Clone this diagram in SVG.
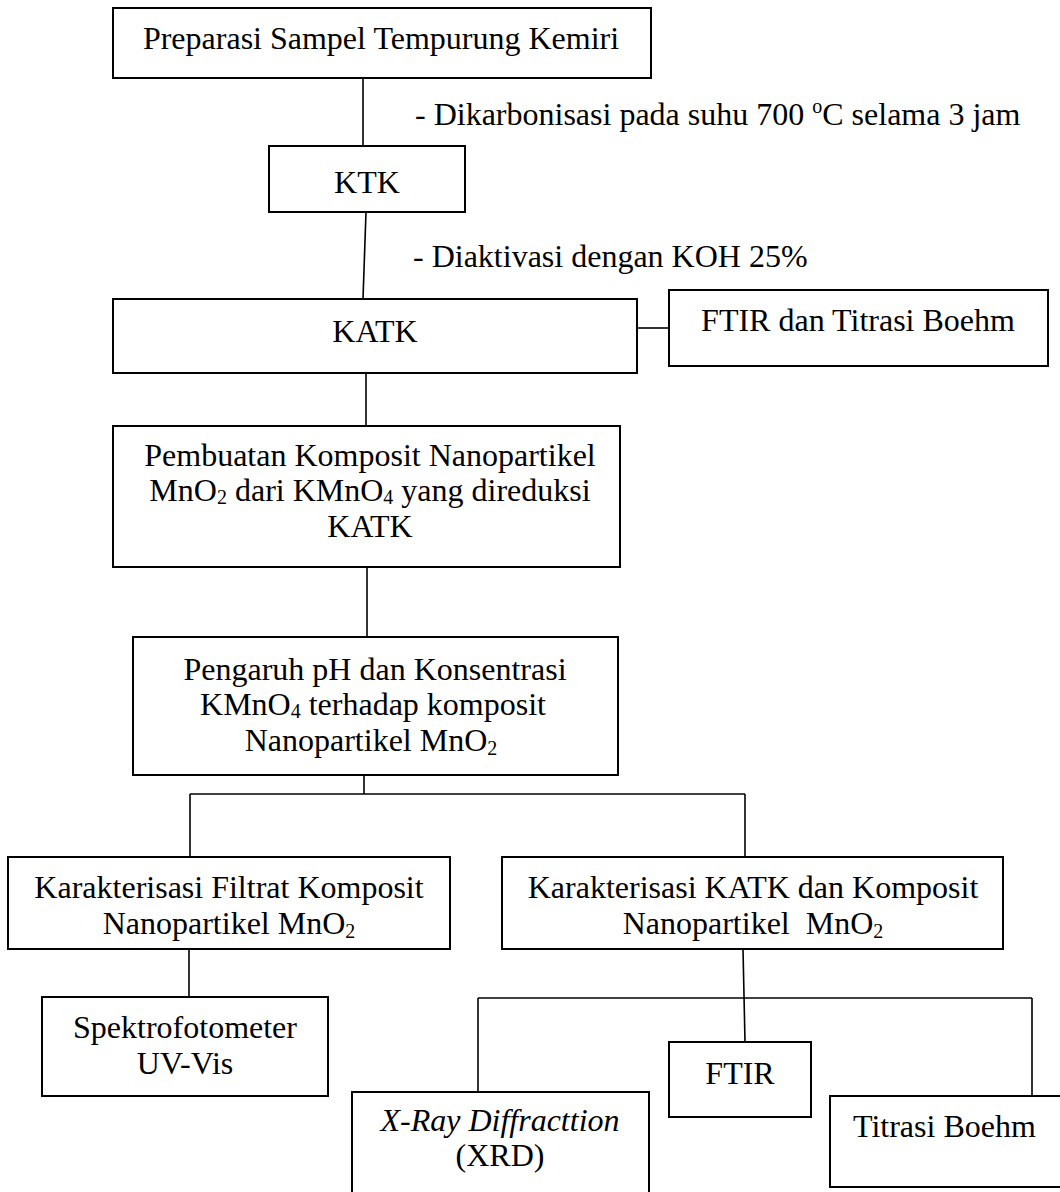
<svg xmlns="http://www.w3.org/2000/svg" width="1060" height="1192" viewBox="0 0 1060 1192">
<style>
.box{fill:#fff;stroke:#000;stroke-width:2}
.ln{fill:none;stroke:#000;stroke-width:1.6}
.t{font-family:"Liberation Serif","Times New Roman",serif;font-size:32px;fill:#000}
.c{text-anchor:middle}
.s{font-size:20px}
</style>
<rect width="1060" height="1192" fill="#fff"/>
<g id="connectors">
<line class="ln" x1="363" y1="78" x2="363" y2="146"/>
<line class="ln" x1="366" y1="212" x2="363" y2="299"/>
<line class="ln" x1="637" y1="328" x2="669" y2="328"/>
<line class="ln" x1="366" y1="373" x2="366" y2="426"/>
<line class="ln" x1="367" y1="567" x2="367" y2="637"/>
<line class="ln" x1="364" y1="775" x2="364" y2="794"/>
<line class="ln" x1="190" y1="794" x2="745" y2="794"/>
<line class="ln" x1="190" y1="794" x2="190" y2="857"/>
<line class="ln" x1="745" y1="794" x2="745" y2="857"/>
<line class="ln" x1="189" y1="949" x2="189" y2="997"/>
<line class="ln" x1="743" y1="949" x2="745" y2="1042"/>
<line class="ln" x1="478" y1="998" x2="1032" y2="998"/>
<line class="ln" x1="478" y1="998" x2="478" y2="1092"/>
<line class="ln" x1="1032" y1="998" x2="1032" y2="1096"/>
</g>
<g id="label-karbonisasi">
<text class="t" x="415" y="125">- Dikarbonisasi pada suhu 700 <tspan class="s" dy="-12">o</tspan><tspan dy="12">C selama 3 jam</tspan></text>
</g>
<g id="label-aktivasi">
<text class="t" x="413" y="267">- Diaktivasi dengan KOH 25%</text>
</g>
<g id="n-preparasi">
<rect class="box" x="113" y="8" width="538" height="70"/>
<text class="t c" x="381" y="49">Preparasi Sampel Tempurung Kemiri</text>
</g>
<g id="n-ktk">
<rect class="box" x="269" y="146" width="196" height="66"/>
<text class="t c" x="367" y="193">KTK</text>
</g>
<g id="n-katk">
<rect class="box" x="113" y="299" width="524" height="74"/>
<text class="t c" x="375" y="342">KATK</text>
</g>
<g id="n-ftir-boehm">
<rect class="box" x="669" y="290" width="379" height="76"/>
<text class="t c" x="858" y="331">FTIR dan Titrasi Boehm</text>
</g>
<g id="n-pembuatan">
<rect class="box" x="113" y="426" width="507" height="141"/>
<text class="t c" x="370" y="466">Pembuatan Komposit Nanopartikel</text>
<text class="t c" x="370" y="501">MnO<tspan class="s" dy="3">2</tspan><tspan dy="-3"> dari KMnO</tspan><tspan class="s" dy="3">4</tspan><tspan dy="-3"> yang direduksi</tspan></text>
<text class="t c" x="370" y="537">KATK</text>
</g>
<g id="n-pengaruh">
<rect class="box" x="133" y="637" width="485" height="138"/>
<text class="t c" x="375" y="680">Pengaruh pH dan Konsentrasi</text>
<text class="t c" x="373" y="715">KMnO<tspan class="s" dy="3">4</tspan><tspan dy="-3"> terhadap komposit</tspan></text>
<text class="t c" x="371" y="751">Nanopartikel MnO<tspan class="s" dy="4">2</tspan></text>
</g>
<g id="n-filtrat">
<rect class="box" x="8" y="857" width="442" height="92"/>
<text class="t c" x="229" y="898">Karakterisasi Filtrat Komposit</text>
<text class="t c" x="229" y="934">Nanopartikel MnO<tspan class="s" dy="4">2</tspan></text>
</g>
<g id="n-karakterisasi-katk">
<rect class="box" x="502" y="857" width="501" height="92"/>
<text class="t c" x="753" y="898">Karakterisasi KATK dan Komposit</text>
<text class="t c" x="753" y="934">Nanopartikel&#160; MnO<tspan class="s" dy="4">2</tspan></text>
</g>
<g id="n-spektro">
<rect class="box" x="42" y="997" width="286" height="99"/>
<text class="t c" x="185" y="1038">Spektrofotometer</text>
<text class="t c" x="185" y="1074">UV-Vis</text>
</g>
<g id="n-xrd">
<rect class="box" x="352" y="1092" width="297" height="120"/>
<text class="t c" x="500" y="1131"><tspan font-style="italic">X-Ray Diffracttion</tspan></text>
<text class="t c" x="500" y="1166">(XRD)</text>
</g>
<g id="n-ftir">
<rect class="box" x="669" y="1042" width="142" height="75"/>
<text class="t c" x="740" y="1084">FTIR</text>
</g>
<g id="n-titrasi">
<rect class="box" x="830" y="1096" width="236" height="91"/>
<text class="t" x="853" y="1137">Titrasi Boehm</text>
</g>
</svg>
